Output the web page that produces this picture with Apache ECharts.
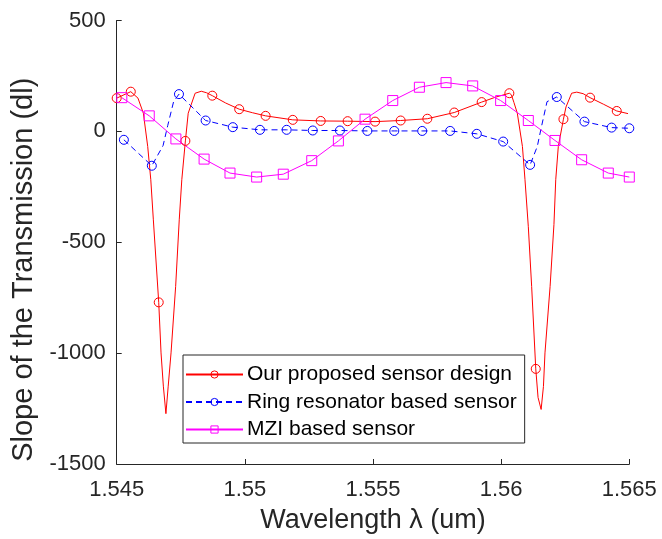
<!DOCTYPE html>
<html><head><meta charset="utf-8">
<script src="https://cdn.jsdelivr.net/npm/echarts@6/dist/echarts.min.js"></script>
<style>html,body{margin:0;padding:0;background:#fff}#c{width:662px;height:539px}</style>
</head><body><div id="c"></div>
<script>
const seriesNames = ['Our proposed sensor design', 'Ring resonator based sensor', 'MZI based sensor'];
const xTickValues = [1.545, 1.55, 1.555, 1.56, 1.565];
const yTickValues = [-1500, -1000, -500, 0, 500];

// Proposed sensor (solid red, circle markers on a subset of samples)
const redX = [1.5450, 1.54555, 1.54583, 1.54604, 1.54621, 1.54633, 1.54643, 1.54664, 1.54673, 1.54682,
  1.54692, 1.54701, 1.54712, 1.54730, 1.54744, 1.54754, 1.54768, 1.54779, 1.54806, 1.54830,
  1.54851, 1.54873, 1.54925, 1.54978, 1.55030, 1.55081, 1.55187, 1.55296, 1.55401, 1.55508,
  1.55608, 1.55712, 1.55817, 1.55924, 1.55980, 1.56032, 1.56040, 1.56050, 1.56063, 1.56083,
  1.56093, 1.56106, 1.56119, 1.56135, 1.56144, 1.56156, 1.56165, 1.56171, 1.56191, 1.56206,
  1.56213, 1.56223, 1.56243, 1.56253, 1.56275, 1.56295, 1.56320, 1.56347, 1.56400, 1.56451,
  1.56495];
const redY = [150, 179, 150, 82, -68, -218, -399, -771, -999, -1149,
  -1273, -1149, -999, -699, -399, -218, -43, 82, 172, 181,
  174, 161, 128, 100, 84, 70, 52, 47, 46, 44,
  49, 57, 85, 132, 155, 172, 165, 130, 82, -68,
  -218, -430, -699, -1071, -1200, -1254, -1150, -999, -699, -420,
  -218, -68, 55, 110, 172, 177, 170, 152, 122, 92,
  80];
const redMarkX = [1.5450, 1.54555, 1.54664, 1.54768, 1.54873, 1.54978, 1.55081, 1.55187, 1.55296, 1.55401,
  1.55508, 1.55608, 1.55712, 1.55817, 1.55924, 1.56032, 1.56135, 1.56243, 1.56347, 1.56451];

// Ring resonator sensor (dashed blue, circle markers)
const blueX = [1.54528, 1.54637, 1.54681, 1.54699, 1.54722, 1.54743, 1.54847, 1.54953, 1.55059, 1.55163,
  1.55265, 1.55371, 1.55478, 1.55583, 1.55692, 1.55801, 1.55905, 1.56008, 1.56113, 1.56141,
  1.56158, 1.56179, 1.56217, 1.56325, 1.56431, 1.5650];
const blueY = [-38, -155, -64, 26, 134, 168, 49, 19, 7, 7,
  4, 4, 2, 2, 2, 2, -11, -46, -151, -68,
  25, 134, 155, 44, 17, 14];
const blueMarkX = [1.54528, 1.54637, 1.54743, 1.54847, 1.54953, 1.55059, 1.55163, 1.55265, 1.55371, 1.55478,
  1.55583, 1.55692, 1.55801, 1.55905, 1.56008, 1.56113, 1.56217, 1.56325, 1.56431, 1.5650];

// MZI sensor (solid magenta, square markers)
const mziX = [1.54520, 1.54627, 1.54731, 1.54841, 1.54942, 1.55046, 1.55150, 1.55261, 1.55365, 1.55469,
  1.55577, 1.55681, 1.55785, 1.55889, 1.55998, 1.56106, 1.56210, 1.56314, 1.56418, 1.5650];
const mziY = [152, 70, -34, -125, -188, -206, -193, -132, -43, 55,
  139, 199, 220, 205, 139, 49, -41, -128, -188, -206];

const FONT = '"Liberation Sans", Arial, Helvetica, sans-serif';
const AX = '#262626';

function pairs(xs, ys) { return xs.map((x, i) => [x, ys[i]]); }
function sizer(markX, size) {
  const s = new Set(markX);
  return (v) => s.has(v[0]) ? size : 0;
}

const chart = echarts.init(document.getElementById('c'), null, { renderer: 'canvas' });
chart.setOption({
  backgroundColor: '#fff',
  animation: false,
  grid: { left: 116.7, right: 32.7, top: 20.5, bottom: 74.5, containLabel: false },
  xAxis: {
    type: 'value', min: xTickValues[0], max: xTickValues[xTickValues.length - 1], interval: 0.005,
    name: 'Wavelength λ (um)', nameLocation: 'middle', nameGap: 43,
    nameTextStyle: { fontFamily: FONT, fontSize: 27, color: AX },
    axisLine: { show: true, onZero: false, lineStyle: { color: AX, width: 1 } },
    axisTick: { show: true, inside: true, length: 5, lineStyle: { color: AX } },
    axisLabel: { fontFamily: FONT, fontSize: 22, color: AX, margin: 15,
      formatter: v => String(Number(v.toFixed(4))) },
    splitLine: { show: false }
  },
  yAxis: {
    type: 'value', min: yTickValues[0], max: yTickValues[yTickValues.length - 1], interval: 500,
    name: 'Slope of the Transmission (dl)', nameLocation: 'middle', nameGap: 70, nameRotate: 90,
    nameTextStyle: { fontFamily: FONT, fontSize: 29, color: AX, padding: [0, 55, 0, 0] },
    axisLine: { show: true, onZero: false, lineStyle: { color: AX, width: 1 } },
    axisTick: { show: true, inside: true, length: 5, lineStyle: { color: AX } },
    axisLabel: { fontFamily: FONT, fontSize: 22, color: AX, margin: 11, formatter: v => String(v) },
    splitLine: { show: false }
  },
  legend: {
    orient: 'vertical', left: 183, top: 355,
    backgroundColor: '#fff', borderColor: AX, borderWidth: 1,
    padding: [9, 8, 3, 2], itemWidth: 57, itemHeight: 9, itemGap: 6.5,
    textStyle: { fontFamily: FONT, fontSize: 21, color: '#000', padding: [0, 0, 0, -1] },
    itemStyle: { borderWidth: 1 },
    data: seriesNames
  },
  series: [
    { name: seriesNames[0], type: 'line', data: pairs(redX, redY),
      symbol: 'circle', symbolSize: sizer(redMarkX, 9),
      itemStyle: { color: 'transparent', borderColor: '#ff0000', borderWidth: 1 },
      lineStyle: { color: '#ff0000', width: 1 }, emphasis: { disabled: true } },
    { name: seriesNames[1], type: 'line', data: pairs(blueX, blueY),
      symbol: 'circle', symbolSize: sizer(blueMarkX, 9),
      itemStyle: { color: 'transparent', borderColor: '#0000ff', borderWidth: 1 },
      lineStyle: { color: '#0000ff', width: 1, type: [6, 4] }, emphasis: { disabled: true } },
    { name: seriesNames[2], type: 'line', data: pairs(mziX, mziY),
      symbol: 'rect', symbolSize: 10,
      itemStyle: { color: 'transparent', borderColor: '#ff00ff', borderWidth: 1 },
      lineStyle: { color: '#ff00ff', width: 1 }, emphasis: { disabled: true } }
  ]
});
</script></body></html>
